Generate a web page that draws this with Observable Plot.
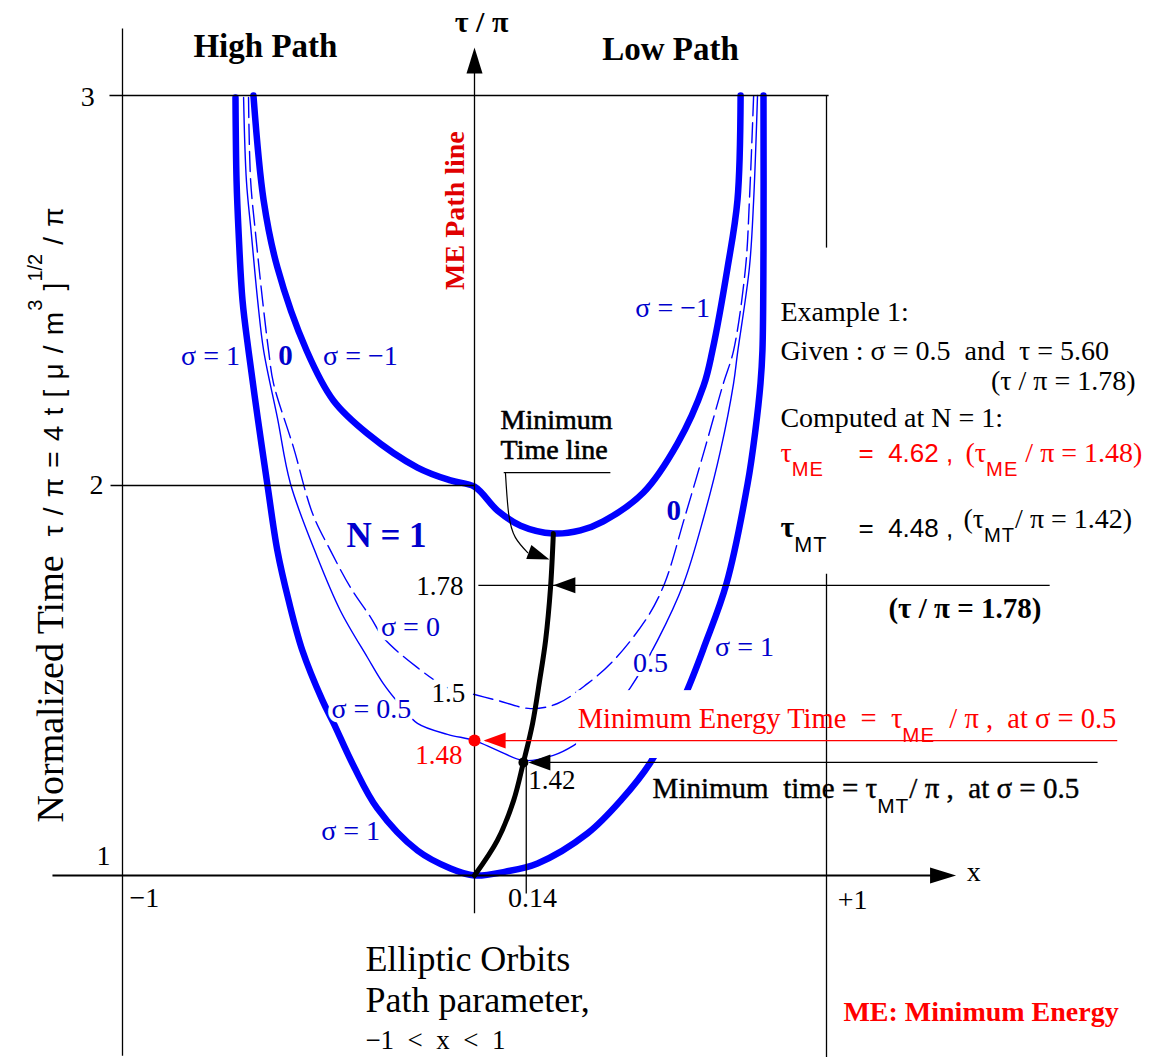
<!DOCTYPE html>
<html><head><meta charset="utf-8">
<script src="https://cdn.jsdelivr.net/npm/d3@7"></script>
<script src="https://cdn.jsdelivr.net/npm/@observablehq/plot@0.6"></script>
<style>html,body{margin:0;padding:0;background:#fff;overflow:hidden}svg{display:block}</style>
</head><body><div id="chart"></div>
<script>
const SERIF = "'Liberation Serif', 'Times New Roman', serif";
const SANS = "'Liberation Sans', Arial, sans-serif";
const BLUE = "#0000ff", LBLUE = "#0000cc", RED = "#ff0000";

// ---- curves: [x (path parameter), tau/pi] ----
const sigmaPlusOne = [
 [-0.679,2.995],[-0.676,2.782],[-0.670,2.646],[-0.659,2.474],[-0.642,2.346],[-0.616,2.174],[-0.588,2.0],
 [-0.560,1.833],[-0.528,1.705],[-0.489,1.577],[-0.432,1.449],[-0.401,1.392],[-0.344,1.282],[-0.276,1.172],
 [-0.162,1.064],[-0.068,1.018],[0,1],[0.088,1.010],[0.179,1.031],[0.321,1.108],[0.415,1.192],[0.500,1.290],
 [0.594,1.454],[0.656,1.595],[0.716,1.749],[0.776,2.005],[0.798,2.141],[0.8125,2.262],[0.818,2.346],
 [0.821,2.603],[0.821,3.0]
];
const sigmaMinusOne = [
 [-0.628,3.0],[-0.599,2.731],[-0.560,2.559],[-0.477,2.346],[-0.401,2.218],[-0.304,2.133],[-0.162,2.046],
 [-0.068,2.013],[0,1.997],[0.065,1.936],[0.131,1.897],[0.224,1.877],[0.301,1.885],[0.366,1.908],
 [0.480,1.982],[0.577,2.108],[0.651,2.256],[0.676,2.346],[0.719,2.559],[0.747,2.731],[0.756,3.0]
];
const sigmaZero = [
 [-0.642,2.995],[-0.636,2.782],[-0.622,2.646],[-0.602,2.474],[-0.585,2.346],[-0.571,2.262],[-0.514,2.097],
 [-0.460,1.928],[-0.409,1.833],[-0.352,1.738],[-0.295,1.662],[-0.259,1.610],[-0.162,1.533],[-0.077,1.482],
 [0,1.464],[0.065,1.449],[0.159,1.428],[0.236,1.441],[0.321,1.492],[0.395,1.551],[0.491,1.662],[0.540,1.749],
 [0.597,1.918],[0.653,2.090],[0.707,2.262],[0.736,2.346],[0.770,2.559],[0.781,2.731],[0.793,3.0]
];
const sigmaHalf = [
 [-0.656,2.995],[-0.648,2.782],[-0.634,2.646],[-0.616,2.474],[-0.599,2.346],[-0.560,2.174],[-0.523,2.005],
 [-0.446,1.815],[-0.381,1.679],[-0.304,1.559],[-0.259,1.492],[-0.210,1.436],[-0.162,1.390],[-0.077,1.362],
 [0,1.346],[0.065,1.321],[0.139,1.295],[0.224,1.308],[0.281,1.333],[0.358,1.385],[0.443,1.482],[0.520,1.603],
 [0.594,1.749],[0.651,1.918],[0.699,2.090],[0.736,2.262],[0.747,2.338],[0.781,2.559],[0.793,2.731],[0.804,3.0]
];
const minTimeLine = [
 [0,1],[0.065,1.090],[0.111,1.192],[0.139,1.290],[0.165,1.390],[0.185,1.5],[0.202,1.603],[0.216,1.738],
 [0.224,1.877]
];
const leaderCurve = [[0.088,2.031],[0.097,1.928],[0.116,1.867],[0.151,1.828]];

// ---- key points ----
const minEnergyPoint = [{x:0, y:1.346}];
const minTimePoint = [{x:0.139, y:1.29}];

// ---- frame / guide segments ----
const frameLines = [
 {x1:-1.037, y1:3, x2:1.006, y2:3},
 {x1:-1.034, y1:2, x2:0, y2:2},
 {x1:-1, y1:0.538, x2:-1, y2:3.172},
 {x1:1, y1:2.610, x2:1, y2:3.0},
 {x1:1, y1:0.533, x2:1, y2:1.774},
 {x1:0, y1:0.903, x2:0, y2:3.07},
 {x1:0.011, y1:1.744, x2:1.634, y2:1.744},
 {x1:0.147, y1:0.954, x2:0.147, y2:1.29},
 {x1:0.16, y1:1.29, x2:1.77, y2:1.29},
 {x1:0.083, y1:2.033, x2:0.386, y2:2.033}
];
const xAxisLine = [{x1:-1.199, y1:1, x2:1.30, y2:1}];
const redLine = [{x1:0.03, y1:1.346, x2:1.826, y2:1.346}];
const labelBox = [{x1:0.29, x2:1.86, y1:1.30, y2:1.474}];

// ---- arrow tips ----
const upTips = [{x:0, y:3.123}];
const rightTips = [{x:1.368, y:1}];
const leftTips = [{x:0.224, y:1.744},{x:0.153, y:1.29}];
const leftTipsRed = [{x:0.026, y:1.346}];
const leaderTips = [{x:0.213, y:1.810}];

// ---- text ----
const tickLabels = [
 {text:"3", x:-1.099, y:2.995},{text:"2", x:-1.074, y:2.0},{text:"1", x:-1.054, y:1.049},
 {text:"−1", x:-0.938, y:0.941},{text:"+1", x:1.074, y:0.938},{text:"0.14", x:0.165, y:0.941},
 {text:"x", x:1.418, y:1.008}
];
const blueLabels = [
 {text:"σ = 1", x:-0.750, y:2.331},{text:"σ = −1", x:-0.324, y:2.331},{text:"σ = 0", x:-0.182, y:1.636},
 {text:"σ = 0.5", x:-0.293, y:1.426},{text:"σ = 1", x:-0.352, y:1.115},{text:"σ = −1", x:0.563, y:2.454},
 {text:"0.5", x:0.500, y:1.544},{text:"σ = 1", x:0.767, y:1.585}
];
const blueBold = [{text:"0", x:-0.537, y:2.333},{text:"0", x:0.566, y:1.936}];
const nLabel = [{text:"N = 1", x:-0.250, y:1.872}];
const valueLabelsEnd = [{text:"1.78", x:-0.031, y:1.741},{text:"1.5", x:-0.026, y:1.467}];
const valueLabelsRed = [{text:"1.48", x:-0.034, y:1.308}];
const valueLabelsStart = [{text:"1.42", x:0.153, y:1.244}];
const headers = [{text:"High Path", x:-0.594, y:3.100},{text:"Low Path", x:0.557, y:3.092}];
const axisTitle = [{text:"τ / π", x:0.020, y:3.187}];
const yTitle = [{text:"Normalized Time  |s28:τ / π = 4 t [ μ / m|^20:3|s28: ]|^20:1/2|s28: / π", x:-1.170, y:1.136}];
const mePathLabel = [{text:"ME Path line", x:-0.031, y:2.705}];
const minTimeCallout = [{text:"Minimum", x:0.074, y:2.167},{text:"Time line", x:0.074, y:2.090}];
const exampleBlock = [
 {text:"Example 1:", x:0.869, y:2.423},
 {text:"Given : σ = 0.5  and  τ = 5.60", x:0.869, y:2.321},
 {text:"Computed at N = 1:", x:0.869, y:2.149},
 {text:"(τ|_:MT|/ π = 1.42)", x:1.389, y:1.890}
];
const exampleBoldTau = [{text:"τ|_:MT", x:0.869, y:1.867}];
const exampleSans = [{text:"=  4.48 ,", x:1.091, y:1.867, c:"black"},{text:"=  4.62 ,", x:1.091, y:2.059, c:"red"}];
const exampleEnd = [{text:"(τ / π = 1.78)", x:1.878, y:2.244}];
const exampleRed = [
 {text:"τ|_:ME", x:0.869, y:2.059},
 {text:"(τ|_:ME| / π = 1.48)", x:1.395, y:2.059}
];
const boldRatio = [{text:"(τ / π = 1.78)", x:1.176, y:1.659}];
const meTimeLabel = [{text:"Minimum Energy Time  =  τ|_:ME|  / π ,  at σ = 0.5", x:0.293, y:1.377}];
const mtTimeLabel = [{text:"Minimum  time = τ|_:MT|/ π ,  at σ = 0.5", x:0.506, y:1.2}];
const bottomBig = [{text:"Elliptic Orbits", x:-0.310, y:0.756},{text:"Path parameter,", x:-0.310, y:0.649}];
const bottomSmall = [{text:"−1  <  x  <  1", x:-0.310, y:0.556}];
const meLegend = [{text:"ME: Minimum Energy", x:1.048, y:0.628}];

const pts = a => a.map(([x, y]) => ({x, y}));
function arrowHead(angleDeg, len, hw) {
  const a = angleDeg * Math.PI / 180, c = Math.cos(a), s = Math.sin(a);
  return {draw(ctx) {
    const bx = -len * c, by = -len * s;
    ctx.moveTo(0, 0);
    ctx.lineTo(bx - hw * s, by + hw * c);
    ctx.lineTo(bx + hw * s, by - hw * c);
    ctx.closePath();
  }};
}
const T = {x:"x", y:"y", text:"text"};
const L = {x1:"x1", y1:"y1", x2:"x2", y2:"y2"};
const halo = w => ({stroke:"white", strokeWidth:w, paintOrder:"stroke"});

const svg = Plot.plot({
  width: 1165, height: 1057,
  marginLeft: 122, marginRight: 339, marginTop: 95, marginBottom: 182,
  x: {domain: [-1, 1], axis: null},
  y: {domain: [1, 3], axis: null},
  style: {background: "white", fontFamily: SERIF, overflow: "visible"},
  marks: [
    Plot.line(pts(sigmaHalf), {x:"x", y:"y", stroke:BLUE, strokeWidth:1.4, curve:"catmull-rom"}),
    Plot.line(pts(sigmaZero), {x:"x", y:"y", stroke:BLUE, strokeWidth:1.4, strokeDasharray:"20,7", curve:"catmull-rom"}),
    Plot.line(pts(sigmaPlusOne), {x:"x", y:"y", stroke:BLUE, strokeWidth:6.5, curve:"catmull-rom"}),
    Plot.line(pts(sigmaMinusOne), {x:"x", y:"y", stroke:BLUE, strokeWidth:6.5, curve:"catmull-rom"}),
    Plot.line(pts(minTimeLine), {x:"x", y:"y", stroke:"black", strokeWidth:5, curve:"catmull-rom"}),
    Plot.rect(labelBox, {...L, fill:"white"}),
    Plot.link(frameLines, {...L, stroke:"black", strokeWidth:1.3}),
    Plot.link(xAxisLine, {...L, stroke:"black", strokeWidth:2.2}),
    Plot.link(redLine, {...L, stroke:RED, strokeWidth:1.3}),
    Plot.line(pts(leaderCurve), {x:"x", y:"y", stroke:"black", strokeWidth:1.2, curve:"natural"}),
    Plot.dot(upTips, {x:"x", y:"y", r:1, symbol:arrowHead(-90, 26, 8), fill:"black", stroke:"none"}),
    Plot.dot(rightTips, {x:"x", y:"y", r:1, symbol:arrowHead(0, 26, 8), fill:"black", stroke:"none"}),
    Plot.dot(leftTips, {x:"x", y:"y", r:1, symbol:arrowHead(180, 22, 8), fill:"black", stroke:"none"}),
    Plot.dot(leftTipsRed, {x:"x", y:"y", r:1, symbol:arrowHead(180, 22, 8), fill:RED, stroke:"none"}),
    Plot.dot(leaderTips, {x:"x", y:"y", r:1, symbol:arrowHead(20, 22, 7.5), fill:"black", stroke:"none"}),
    Plot.dot(minEnergyPoint, {x:"x", y:"y", r:6, fill:RED, stroke:"none"}),
    Plot.dot(minTimePoint, {x:"x", y:"y", r:5, fill:"black", stroke:"none"}),

    Plot.text(tickLabels, {...T, fontSize:28, fill:"black"}),
    Plot.text(blueLabels, {...T, fontSize:28, fill:LBLUE, ...halo(9)}),
    Plot.text(blueBold, {...T, fontSize:29, fontWeight:"bold", fill:LBLUE, ...halo(5)}),
    Plot.text(nLabel, {...T, fontSize:35, fontWeight:"bold", fill:LBLUE}),
    Plot.text(valueLabelsEnd, {...T, fontSize:27, textAnchor:"end", fill:"black", ...halo(13)}),
    Plot.text(valueLabelsRed, {...T, fontSize:27, textAnchor:"end", fill:RED, ...halo(6)}),
    Plot.text(valueLabelsStart, {...T, fontSize:27, textAnchor:"start", fill:"black"}),
    Plot.text(headers, {...T, fontSize:33, fontWeight:"bold", lineAnchor:"bottom", fill:"black"}),
    Plot.text(axisTitle, {...T, fontSize:30, fontWeight:"bold", fill:"black"}),
    Plot.text(yTitle, {...T, fontSize:38, rotate:-90, textAnchor:"start", lineAnchor:"bottom", fill:"black"}),
    Plot.text(mePathLabel, {...T, fontSize:28, fontWeight:"bold", rotate:-90, textAnchor:"middle", lineAnchor:"bottom", fill:"#e00000"}),
    Plot.text(minTimeCallout, {...T, fontSize:28, textAnchor:"start", fill:"black", stroke:"black", strokeWidth:0.6}),
    Plot.text(exampleBlock, {...T, fontSize:28, textAnchor:"start", lineAnchor:"bottom", fill:"black"}),
    Plot.text(exampleBoldTau, {...T, fontSize:30, fontWeight:"bold", textAnchor:"start", lineAnchor:"bottom", fill:"black"}),
    Plot.text(exampleSans, {...T, fontSize:26, fontFamily:SANS, textAnchor:"start", lineAnchor:"bottom", fill:"c"}),
    Plot.text(exampleEnd, {...T, fontSize:28, textAnchor:"end", lineAnchor:"bottom", fill:"black"}),
    Plot.text(exampleRed, {...T, fontSize:28, textAnchor:"start", lineAnchor:"bottom", fill:RED}),
    Plot.text(boldRatio, {...T, fontSize:29, fontWeight:"bold", textAnchor:"start", lineAnchor:"bottom", fill:"black"}),
    Plot.text(meTimeLabel, {...T, fontSize:28.5, textAnchor:"start", lineAnchor:"bottom", fill:RED}),
    Plot.text(mtTimeLabel, {...T, fontSize:29, textAnchor:"start", lineAnchor:"bottom", fill:"black", stroke:"black", strokeWidth:0.4}),
    Plot.text(bottomBig, {...T, fontSize:36, textAnchor:"start", lineAnchor:"bottom", fill:"black"}),
    Plot.text(bottomSmall, {...T, fontSize:27, textAnchor:"start", lineAnchor:"bottom", fill:"black"}),
    Plot.text(meLegend, {...T, fontSize:28, fontWeight:"bold", textAnchor:"start", lineAnchor:"bottom", fill:RED})
  ]
});

// rich text: segments separated by "|", with codes s (sans), _ (subscript), ^ (superscript), optional px size
function richify(root) {
  root.querySelectorAll("text").forEach(t => {
    const s = t.textContent;
    if (!s.includes("|")) return;
    t.textContent = "";
    for (const part of s.split("|")) {
      if (!part) continue;
      const ts = document.createElementNS("http://www.w3.org/2000/svg", "tspan");
      const m = part.match(/^([s_^]+)(\d*):([\s\S]*)$/);
      let txt = part;
      if (m) {
        const codes = m[1], size = m[2];
        txt = m[3];
        ts.setAttribute("font-family", SANS);
        ts.setAttribute("font-weight", "normal");
        ts.setAttribute("stroke", "none");
        if (codes.includes("_")) {
          ts.setAttribute("font-size", size ? size + "px" : "0.72em");
          ts.setAttribute("baseline-shift", "-0.7em");
          ts.setAttribute("letter-spacing", "1");
        } else if (codes.includes("^")) {
          ts.setAttribute("font-size", size ? size + "px" : "0.72em");
          ts.setAttribute("baseline-shift", "1.05em");
        } else if (size) {
          ts.setAttribute("font-size", size + "px");
          ts.setAttribute("letter-spacing", "1.2");
        }
      }
      ts.textContent = txt;
      t.appendChild(ts);
    }
  });
}
richify(svg);
document.getElementById("chart").append(svg);
</script></body></html>
